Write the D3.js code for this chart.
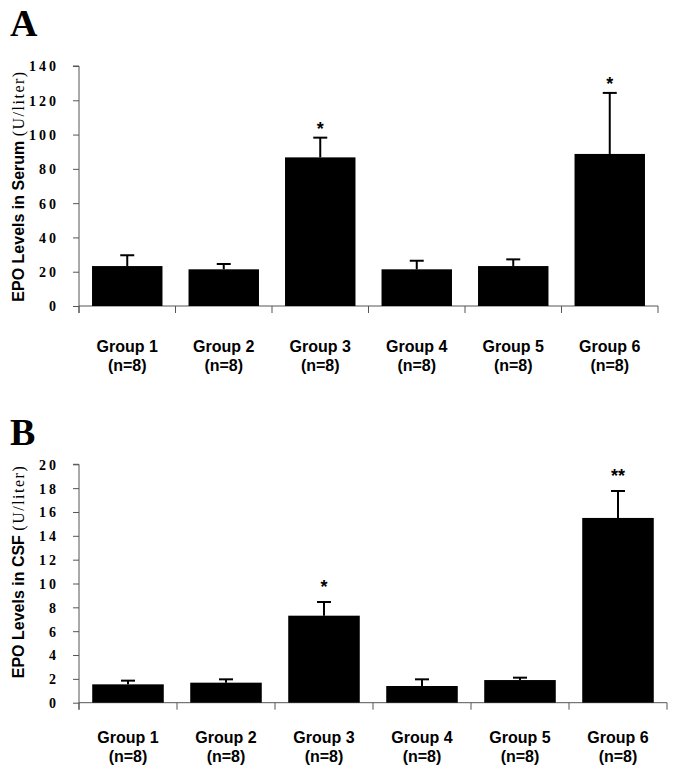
<!DOCTYPE html>
<html>
<head>
<meta charset="utf-8">
<script src="https://cdn.jsdelivr.net/npm/d3@7"></script>
<style>
  body { margin: 0; background: #fff; }
  .tickTxt { font-family: "Liberation Serif", "Times New Roman", serif; font-weight: bold; font-size: 14px; letter-spacing: 3px; }
  .catTxt { font-family: "Liberation Sans", Arial, sans-serif; font-weight: bold; font-size: 16px; }
</style>
</head>
<body>
<div id="chart"></div>
<script>
// data
var groups = ["Group 1", "Group 2", "Group 3", "Group 4", "Group 5", "Group 6"];
var nLabel = "(n=8)";

var serumMean = [23.3, 21.4, 86.7, 21.4, 23.3, 88.7];
var serumErr  = [6.3, 3.1, 11.5, 5.0, 3.9, 35.6];
var serumStars = ["", "", "*", "", "", "*"];
var serumTicks = [0, 20, 40, 60, 80, 100, 120, 140];

var csfMean = [1.54, 1.68, 7.3, 1.4, 1.9, 15.5];
var csfErr  = [0.31, 0.28, 1.15, 0.56, 0.2, 2.26];
var csfStars = ["", "", "*", "", "", "**"];
var csfTicks = [0, 2, 4, 6, 8, 10, 12, 14, 16, 18, 20];

var svgWidth = 673;
var svgHeight = 768;

var svg = d3.select("#chart")
  .append("svg")
  .attr("width", svgWidth)
  .attr("height", svgHeight);

// draws one panel
function drawPanel(opts) {
  var x = d3.scaleBand()
    .domain(groups)
    .range([opts.left, opts.right])
    .paddingInner(0.27)
    .paddingOuter(0.135);
  var y = d3.scaleLinear()
    .domain([0, opts.max])
    .range([opts.bottom, opts.top]);

  var g = svg.append("g");

  // y axis
  var yAxis = d3.axisLeft(y)
    .tickValues(opts.ticks)
    .tickSize(6)
    .tickPadding(14)
    .tickFormat(d3.format("d"));
  var ya = g.append("g")
    .attr("transform", `translate(${opts.left},0)`)
    .call(yAxis);
  ya.select(".domain").attr("stroke", "#555").attr("d", `M-6,${opts.top}H0V${opts.bottom + 7}`);
  ya.selectAll(".tick line").attr("stroke", "#555");
  ya.selectAll(".tick text")
    .attr("class", "tickTxt")
    .attr("fill", "#000")
    .attr("dy", "0.35em");

  // x axis with ticks between groups
  var step = x.step();
  var bounds = d3.range(groups.length + 1).map(i => opts.left + i * step);
  g.append("line")
    .attr("x1", opts.left).attr("x2", opts.right)
    .attr("y1", opts.bottom).attr("y2", opts.bottom)
    .attr("stroke", "#555");
  g.selectAll("line.xt")
    .data(bounds)
    .enter()
    .append("line")
    .attr("class", "xt")
    .attr("x1", d => d).attr("x2", d => d)
    .attr("y1", opts.bottom).attr("y2", opts.bottom + 7)
    .attr("stroke", "#555");

  // error bars (drawn first, bar covers the lower part)
  var errG = g.selectAll("g.err")
    .data(groups)
    .enter()
    .append("g")
    .attr("class", "err");
  errG.append("line")
    .attr("x1", d => x(d) + x.bandwidth() / 2)
    .attr("x2", d => x(d) + x.bandwidth() / 2)
    .attr("y1", (d, i) => y(opts.mean[i]))
    .attr("y2", (d, i) => y(opts.mean[i] + opts.err[i]))
    .attr("stroke", "#000")
    .attr("stroke-width", 2);
  errG.append("line")
    .attr("x1", d => x(d) + x.bandwidth() / 2 - 7)
    .attr("x2", d => x(d) + x.bandwidth() / 2 + 7)
    .attr("y1", (d, i) => y(opts.mean[i] + opts.err[i]))
    .attr("y2", (d, i) => y(opts.mean[i] + opts.err[i]))
    .attr("stroke", "#000")
    .attr("stroke-width", 2);

  // bars
  g.selectAll("rect.bar")
    .data(groups)
    .enter()
    .append("rect")
    .attr("class", "bar")
    .attr("x", d => x(d))
    .attr("width", x.bandwidth())
    .attr("y", (d, i) => y(opts.mean[i]))
    .attr("height", (d, i) => opts.bottom - y(opts.mean[i]))
    .attr("fill", "#000");

  // significance stars
  g.selectAll("text.star")
    .data(groups)
    .enter()
    .append("text")
    .attr("x", d => x(d) + x.bandwidth() / 2)
    .attr("y", (d, i) => y(opts.mean[i] + opts.err[i]) - opts.starGap)
    .attr("text-anchor", "middle")
    .attr("font-family", "Liberation Sans, Arial, sans-serif")
    .attr("font-weight", "bold")
    .attr("font-size", "18px")
    .text((d, i) => opts.stars[i]);

  // category labels
  var cat = g.selectAll("text.cat")
    .data(groups)
    .enter()
    .append("text")
    .attr("class", "catTxt")
    .attr("text-anchor", "middle")
    .attr("x", d => x(d) + x.bandwidth() / 2)
    .attr("y", opts.bottom + opts.labelDy);
  cat.append("tspan").text(d => d);
  cat.append("tspan")
    .attr("x", d => x(d) + x.bandwidth() / 2)
    .attr("dy", 19)
    .text(nLabel);

  // y title
  var yt = g.append("text")
    .attr("transform", `translate(24, ${(opts.top + opts.bottom) / 2 + opts.titleShift}) rotate(-90)`)
    .attr("text-anchor", "middle");
  yt.append("tspan")
    .attr("font-family", "Liberation Sans, Arial, sans-serif")
    .attr("font-weight", "bold")
    .attr("font-size", "16px")
    .text(opts.title + " ");
  yt.append("tspan")
    .attr("font-family", "Liberation Serif, Times New Roman, serif")
    .attr("font-size", "16px")
    .attr("letter-spacing", "1.5px")
    .text("(U/liter)");

  // panel letter
  g.append("text")
    .attr("x", 10)
    .attr("y", opts.letterY)
    .attr("font-family", "Liberation Serif, Times New Roman, serif")
    .attr("font-weight", "bold")
    .attr("font-size", "38px")
    .text(opts.letter);
}

drawPanel({
  left: 79, right: 658, top: 66, bottom: 306,
  max: 140, ticks: serumTicks,
  mean: serumMean, err: serumErr, stars: serumStars,
  starGap: 3, labelDy: 46,
  title: "EPO Levels in Serum", titleShift: 0,
  letter: "A", letterY: 36
});

drawPanel({
  left: 79, right: 667, top: 464.3, bottom: 702.7,
  max: 20, ticks: csfTicks,
  mean: csfMean, err: csfErr, stars: csfStars,
  starGap: 9, labelDy: 40,
  title: "EPO Levels in CSF", titleShift: -12,
  letter: "B", letterY: 445
});
</script>
</body>
</html>
